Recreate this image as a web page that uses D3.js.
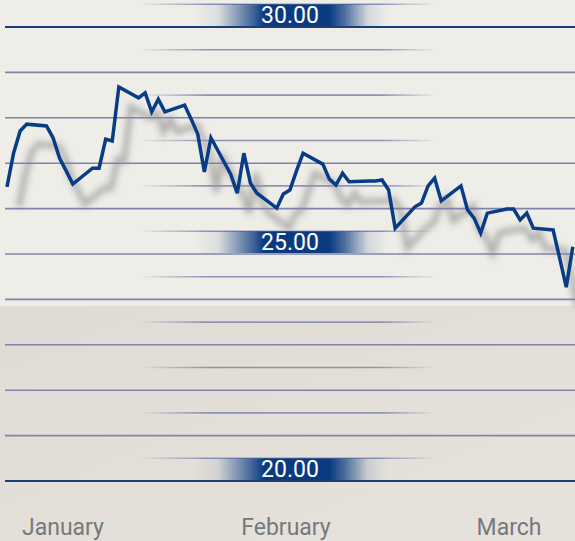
<!DOCTYPE html>
<html>
<head>
<meta charset="utf-8">
<script src="https://cdn.jsdelivr.net/npm/d3@7"></script>
<style>
    html, body { margin: 0; padding: 0; background: #eeede8; }
    svg { display: block; }
</style>
</head>
<body>
<div id="chart"></div>
<script>
const trade_dates = [
    "2008-01-01", "2008-01-02", "2008-01-03", "2008-01-04",
    "2008-01-07", "2008-01-08", "2008-01-09", "2008-01-10", "2008-01-11",
    "2008-01-14", "2008-01-15", "2008-01-16", "2008-01-17", "2008-01-18",
    "2008-01-21", "2008-01-22", "2008-01-23", "2008-01-24", "2008-01-25",
    "2008-01-28", "2008-01-29", "2008-01-30", "2008-01-31", "2008-02-01",
    "2008-02-04", "2008-02-05", "2008-02-06", "2008-02-07", "2008-02-08",
    "2008-02-11", "2008-02-12", "2008-02-13", "2008-02-14", "2008-02-15",
    "2008-02-18", "2008-02-19", "2008-02-20", "2008-02-21", "2008-02-22",
    "2008-02-25", "2008-02-26", "2008-02-27", "2008-02-28", "2008-02-29",
    "2008-03-03", "2008-03-04", "2008-03-05", "2008-03-06", "2008-03-07",
    "2008-03-10", "2008-03-11", "2008-03-12", "2008-03-13", "2008-03-14",
    "2008-03-17", "2008-03-18", "2008-03-19", "2008-03-20", "2008-03-21",
    "2008-03-24", "2008-03-25", "2008-03-26", "2008-03-27"
];

const prices = [
    26.48, 27.22, 27.71, 27.86,
    27.82, 27.56, 27.11, 26.83, 26.54,
    26.89, 26.89, 27.53, 27.49, 28.68,
    28.44, 28.55, 28.13, 28.41, 28.13,
    28.28, 27.97, 27.64, 26.81, 27.56,
    26.76, 26.34, 27.22, 26.56, 26.34,
    26.01, 26.32, 26.41, 26.83, 27.22,
    26.98, 26.65, 26.52, 26.78, 26.59,
    26.61, 26.61, 26.63, 26.41, 25.57,
    26.04, 26.12, 26.50, 26.67, 26.17,
    26.50, 25.97, 25.79, 25.46, 25.90,
    25.99, 25.99, 25.75, 25.90, 25.57,
    25.53, 24.91, 24.27, 25.16
];

const month_labels = ["January", "February", "March"];
const major_ticks = [20, 21, 22, 23, 24, 25, 26, 27, 28, 29, 30];
const minor_ticks = [20.5, 21.5, 22.5, 23.5, 24.5, 25.5, 26.5, 27.5, 28.5, 29.5, 30.5];
const label_ticks = [30, 25, 20];

const width = 575;
const height = 541;
const lower_band_top = 306;

const parse_date = d3.timeParse("%Y-%m-%d");
const data = trade_dates.map((d, i) => ({date: parse_date(d), value: prices[i]}));

const svg = d3.select("#chart")
    .append("svg")
    .attr("width", width)
    .attr("height", height);

const defs = svg.append("defs");

// fading minor grid lines
const minor_grad = defs.append("linearGradient")
    .attr("id", "minor-grad")
    .attr("gradientUnits", "userSpaceOnUse")
    .attr("x1", 0).attr("x2", width).attr("y1", 0).attr("y2", 0);
[[0, 0], [0.24, 0], [0.36, 1], [0.66, 1], [0.76, 0], [1, 0]].forEach(([o, a]) => {
    minor_grad.append("stop").attr("offset", o).attr("stop-color", "#8f92b6").attr("stop-opacity", a);
});

// navy label tab
const tab_grad = defs.append("linearGradient")
    .attr("id", "tab-grad")
    .attr("x1", 0).attr("x2", 1).attr("y1", 0).attr("y2", 0);
[[0, 0], [0.12, 0.08], [0.3, 0.75], [0.36, 1], [0.7, 1], [0.78, 0.7], [0.9, 0.12], [1, 0]].forEach(([o, a]) => {
    tab_grad.append("stop").attr("offset", o).attr("stop-color", "#0a3a80").attr("stop-opacity", a);
});

const lower_grad = defs.append("linearGradient")
    .attr("id", "lower-grad")
    .attr("x1", 0).attr("x2", 1).attr("y1", 0).attr("y2", 1);
lower_grad.append("stop").attr("offset", 0).attr("stop-color", "#e0dcd5");
lower_grad.append("stop").attr("offset", 1).attr("stop-color", "#e6e3dc");

const blur = defs.append("filter")
    .attr("id", "shadow-blur")
    .attr("x", "-10%").attr("y", "-10%").attr("width", "120%").attr("height", "130%");
blur.append("feGaussianBlur").attr("stdDeviation", 3.2);

const x = d3.scaleTime()
    .domain([parse_date("2007-12-31"), parse_date("2008-03-28")])
    .range([0.4, 579.4]);

const y = d3.scaleLinear()
    .domain([20, 30])
    .range([481, 27]);

const month_x = d3.scalePoint()
    .domain(month_labels)
    .range([63, 509]);

// background
svg.append("rect")
    .attr("x", 0).attr("y", 0)
    .attr("width", width).attr("height", lower_band_top)
    .attr("fill", "#eeede8");
svg.append("rect")
    .attr("x", 0).attr("y", lower_band_top)
    .attr("width", width).attr("height", height - lower_band_top)
    .attr("fill", "url(#lower-grad)");

const line = d3.line()
    .x(d => x(d.date))
    .y(d => y(d.value));

// drop shadow of the series
svg.append("path")
    .datum(data)
    .attr("d", line)
    .attr("transform", "translate(12,20)")
    .attr("fill", "none")
    .attr("stroke", "#4a4a4a")
    .attr("stroke-opacity", 0.38)
    .attr("stroke-width", 6)
    .attr("filter", "url(#shadow-blur)");

// grid
svg.append("g")
    .selectAll("line")
    .data(minor_ticks)
    .join("line")
    .attr("x1", 0).attr("x2", width)
    .attr("y1", d => y(d)).attr("y2", d => y(d))
    .attr("stroke", "url(#minor-grad)")
    .attr("stroke-width", 1.6);

svg.append("g")
    .selectAll("line")
    .data(major_ticks)
    .join("line")
    .attr("x1", 5).attr("x2", width)
    .attr("y1", d => y(d)).attr("y2", d => y(d))
    .attr("stroke", d => (d === 20 || d === 30) ? "#1c3d78" : "#8084aa")
    .attr("stroke-width", d => (d === 20 || d === 30) ? 2 : 1.6);

// value tabs
const tabs = svg.append("g")
    .selectAll("g")
    .data(label_ticks)
    .join("g");

tabs.append("rect")
    .attr("x", 195)
    .attr("y", d => y(d + 0.5))
    .attr("width", 192)
    .attr("height", d => y(d) - y(d + 0.5) - 1)
    .attr("fill", "url(#tab-grad)");

tabs.append("text")
    .attr("x", 290)
    .attr("y", d => y(d) - 4)
    .attr("text-anchor", "middle")
    .attr("fill", "#ffffff")
    .style("font-family", "Roboto, 'Noto Sans', sans-serif")
    .style("font-size", "23px")
    .text(d => d3.format(".2f")(d));

// series
svg.append("path")
    .datum(data)
    .attr("d", line)
    .attr("fill", "none")
    .attr("stroke", "#063d86")
    .attr("stroke-width", 3.5);

// month labels
svg.append("g")
    .selectAll("text")
    .data(month_labels)
    .join("text")
    .attr("x", d => month_x(d))
    .attr("y", 535)
    .attr("text-anchor", "middle")
    .attr("fill", "#77787b")
    .style("font-family", "Roboto, 'Noto Sans', sans-serif")
    .style("font-size", "23px")
    .text(d => d);
</script>
</body>
</html>
